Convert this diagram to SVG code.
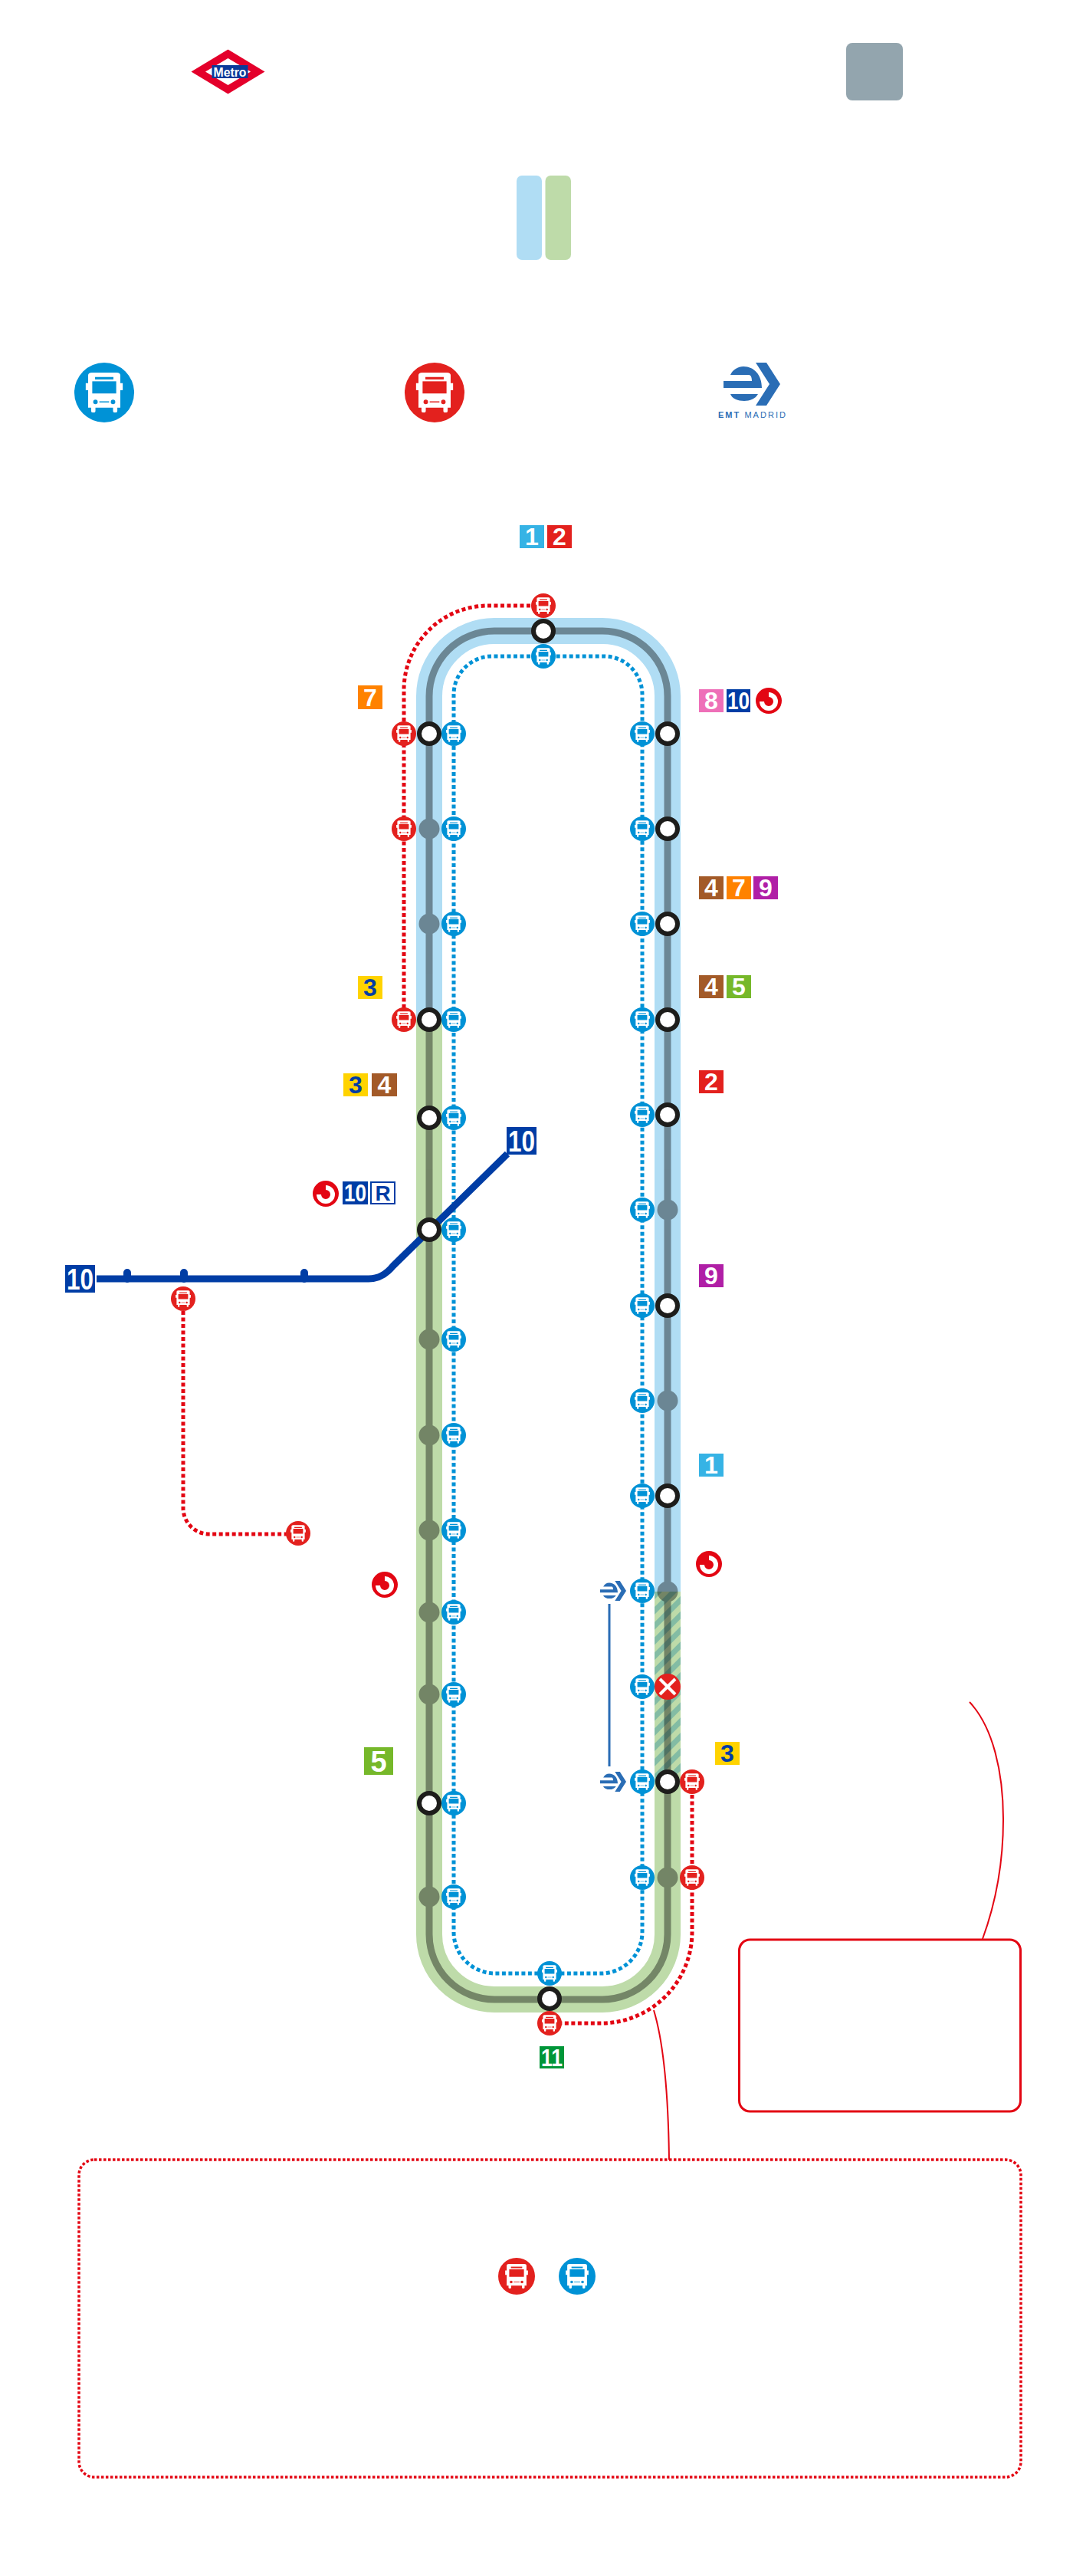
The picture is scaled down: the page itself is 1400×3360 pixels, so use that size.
<svg xmlns="http://www.w3.org/2000/svg" xmlns:xlink="http://www.w3.org/1999/xlink" width="1400" height="3360" viewBox="0 0 1400 3360">
<style>
text{font-family:"Liberation Sans",Arial,sans-serif;font-weight:700;text-anchor:middle}
.bt{font-size:32px;fill:#fff}
.bl{font-size:32px;fill:#003da5}
.bg{font-size:38px;fill:#fff}
.band{fill:none;stroke-width:34}
.dr{fill:none;stroke:#e30613;stroke-width:5;stroke-dasharray:5 3.5}
.db{fill:none;stroke:#0092d6;stroke-width:5;stroke-dasharray:5 3.5}
.lead{fill:none;stroke:#e30613;stroke-width:2}
.st{fill:#fff;stroke:#1d1d1b;stroke-width:6}
</style>
<defs>
<pattern id="hatch" width="14" height="14" patternUnits="userSpaceOnUse" patternTransform="rotate(45)"><rect width="14" height="14" fill="#bedba9"/><rect width="7" height="14" fill="#83bca4"/></pattern>
<g id="busBody"><path fill="#fff" d="M-8.6-9.2Q-8.6-10.7-6.6-10.7H6.6Q8.6-10.7 8.6-9.2V-5H9.9V-1.2H8.6V8.1H7V9.9Q7 10.7 6 10.7H5.6Q4.7 10.7 4.7 9.9V8.1H-4.7V9.9Q-4.7 10.7-5.6 10.7H-6Q-7 10.7-7 9.9V8.1H-8.6V-1.2H-9.9V-5H-8.6Z"/></g>
<g id="busB"><circle r="16" fill="#0092d6"/><use href="#busBody"/><g fill="#0092d6"><rect x="-6.4" y="-6" width="12.8" height="6.5"/><rect x="-4.9" y="-8.3" width="9.8" height="1.3"/><circle cx="-4.7" cy="5" r="1.2"/><circle cx="4.7" cy="5" r="1.2"/><rect x="-2.6" y="4.7" width="5.2" height=".6"/></g></g>
<g id="busR"><circle r="16" fill="#e3211e"/><use href="#busBody"/><g fill="#e3211e"><rect x="-6.4" y="-6" width="12.8" height="6.5"/><rect x="-4.9" y="-8.3" width="9.8" height="1.3"/><circle cx="-4.7" cy="5" r="1.2"/><circle cx="4.7" cy="5" r="1.2"/><rect x="-2.6" y="4.7" width="5.2" height=".6"/></g></g>
<g id="emt" fill="#2a6db5"><path d="M-28-12C-25-19-18-23-11-23C3-23 13-12 13 5H-37V-4H0C0-8-1-12-4-12Z"/><path d="M-28 13H8C5 19-3 22-10 22C-18 22-26 19-28 13Z"/><path d="M5-28H19L37 0L19 28H5L23 0Z"/></g>
<g id="circ"><circle r="17" fill="#e30613"/><path d="M0-8A9 9 0 1 1-9 1" fill="none" stroke="#fff" stroke-width="6"/></g>
</defs>
<rect width="1400" height="3360" fill="#fff"/>

<g id="metro-logo">
<path d="M297.500 64.500L345.500 93.500L297.500 122.500L249.500 93.500Z" fill="#e4002b"/>
<path d="M297.500 76L327 93.500L297.500 111L268 93.500Z" fill="#fff"/>
<rect x="276.500" y="85" width="47" height="17" fill="#0a3a9a"/>
<text x="300" y="99.500" font-size="17" fill="#fff" textLength="43" lengthAdjust="spacingAndGlyphs">Metro</text>
</g>
<g id="grey-box"><rect x="1104" y="56" width="74" height="75" rx="8" fill="#93a5ae"/></g>
<g id="legend-bars"><rect x="674" y="229" width="33" height="110" rx="7" fill="#b0ddf4"/><rect x="711.500" y="229" width="33.500" height="110" rx="7" fill="#bedba9"/></g>
<g id="big-bus-blue"><use href="#busB" transform="translate(136 512) scale(2.44)"/></g>
<g id="big-bus-red"><use href="#busR" transform="translate(567 512) scale(2.44)"/></g>
<g id="emt-logo"><use href="#emt" transform="translate(981 501)"/><text x="981" y="545" font-size="11" fill="#2a6db5" textLength="88">EMT <tspan font-weight="400">MADRID</tspan></text></g>

<g id="connectors">
<path class="band" stroke="#b0ddf4" d="M560 1330V908A85 85 0 0 1 645 823H786A85 85 0 0 1 871 908V2076"/>
<path class="band" stroke="#bedba9" d="M871 2076V2523A85 85 0 0 1 786 2608H645A85 85 0 0 1 560 2523V1330"/>
<rect x="854" y="2076" width="34" height="248" fill="url(#hatch)"/>
<g id="core" opacity=".39">
<path fill="none" stroke="#000" stroke-width="9" d="M560 908A85 85 0 0 1 645 823H786A85 85 0 0 1 871 908V2523A85 85 0 0 1 786 2608H645A85 85 0 0 1 560 2523Z"/>
<circle cx="560" cy="1081" r="13.500"/><circle cx="560" cy="1205" r="13.500"/><circle cx="560" cy="1747" r="13.500"/><circle cx="560" cy="1872" r="13.500"/><circle cx="560" cy="1996" r="13.500"/><circle cx="560" cy="2103" r="13.500"/><circle cx="560" cy="2210" r="13.500"/><circle cx="560" cy="2474" r="13.500"/>
<circle cx="871" cy="1578" r="13.500"/><circle cx="871" cy="1827" r="13.500"/><circle cx="871" cy="2076" r="13.500"/><circle cx="871" cy="2449" r="13.500"/>
</g>
<path class="db" d="M709 856H642A50 50 0 0 0 592 906V2520A54 54 0 0 0 646 2574H784A54 54 0 0 0 838 2520V906A50 50 0 0 0 788 856Z"/>
<path class="dr" d="M709 790H637A110 110 0 0 0 527 900V1330"/>
<path class="dr" d="M903 2324V2520A119 119 0 0 1 784 2639H717"/>
<path class="dr" d="M239 1693V1967A34 34 0 0 0 273 2001H389"/>
<path fill="none" stroke="#003da5" stroke-width="9" d="M126 1668H481C495 1668 505 1661 513 1651L662 1505"/>
<path fill="none" stroke="#003da5" stroke-width="10" stroke-linecap="round" d="M166 1660V1668M240 1660V1668M397 1660V1668"/>
<path fill="none" stroke="#2a6db5" stroke-width="3" d="M795 2092V2304"/>
<path class="lead" d="M1265 2220C1295 2252 1309 2310 1309 2373C1309 2430 1300 2480 1282 2529"/>
<path class="lead" d="M853 2622C866 2665 872 2730 873 2817"/>
</g>

<g id="stations">
<circle class="st" cx="709" cy="823" r="13"/><circle class="st" cx="717" cy="2607" r="13"/>
<circle class="st" cx="560" cy="957" r="13"/><circle class="st" cx="560" cy="1330" r="13"/><circle class="st" cx="560" cy="1458" r="13"/><circle class="st" cx="560" cy="1604" r="13"/><circle class="st" cx="560" cy="2352" r="13"/>
<circle class="st" cx="871" cy="957" r="13"/><circle class="st" cx="871" cy="1081" r="13"/><circle class="st" cx="871" cy="1205" r="13"/><circle class="st" cx="871" cy="1330" r="13"/><circle class="st" cx="871" cy="1454" r="13"/><circle class="st" cx="871" cy="1703" r="13"/><circle class="st" cx="871" cy="1951" r="13"/><circle class="st" cx="871" cy="2324" r="13"/>
</g>
<g id="closed-station"><circle cx="871" cy="2200" r="17" fill="#e3211e"/><path d="M861 2190L881 2210M881 2190L861 2210" stroke="#fff" stroke-width="4" fill="none"/></g>

<g id="blue-stops">
<use href="#busB" x="709" y="856"/><use href="#busB" x="717" y="2574"/>
<use href="#busB" x="592" y="957"/><use href="#busB" x="592" y="1081"/><use href="#busB" x="592" y="1205"/><use href="#busB" x="592" y="1330"/><use href="#busB" x="592" y="1458"/><use href="#busB" x="592" y="1604"/><use href="#busB" x="592" y="1747"/><use href="#busB" x="592" y="1872"/><use href="#busB" x="592" y="1996"/><use href="#busB" x="592" y="2103"/><use href="#busB" x="592" y="2210"/><use href="#busB" x="592" y="2352"/><use href="#busB" x="592" y="2474"/>
<use href="#busB" x="838" y="957"/><use href="#busB" x="838" y="1081"/><use href="#busB" x="838" y="1205"/><use href="#busB" x="838" y="1330"/><use href="#busB" x="838" y="1454"/><use href="#busB" x="838" y="1578"/><use href="#busB" x="838" y="1703"/><use href="#busB" x="838" y="1827"/><use href="#busB" x="838" y="1951"/><use href="#busB" x="838" y="2075"/><use href="#busB" x="838" y="2200"/><use href="#busB" x="838" y="2324"/><use href="#busB" x="838" y="2449"/>
</g>
<g id="red-stops">
<use href="#busR" x="709" y="790"/><use href="#busR" x="527" y="957"/><use href="#busR" x="527" y="1081"/><use href="#busR" x="527" y="1330"/>
<use href="#busR" x="903" y="2324"/><use href="#busR" x="903" y="2449"/><use href="#busR" x="717" y="2639"/><use href="#busR" x="239" y="1694"/><use href="#busR" x="389" y="2000"/>
</g>
<g id="emt-stops"><use href="#emt" transform="translate(800 2075) scale(.46)"/><use href="#emt" transform="translate(800 2324) scale(.46)"/></g>

<g id="badges-top"><rect x="678" y="685" width="32" height="30" fill="#36b3e5"/><text class="bt" x="694" y="711">1</text><rect x="714" y="685" width="32" height="30" fill="#e3211e"/><text class="bt" x="730" y="711">2</text></g>
<g id="badge-7-left"><rect x="467" y="894" width="32" height="31" fill="#ff8200"/><text class="bt" x="483" y="920.500">7</text></g>
<g id="badges-8-10"><rect x="912" y="899" width="32" height="30" fill="#ee6fb8"/><text class="bt" x="928" y="925">8</text><rect x="948" y="899" width="31" height="30" fill="#003da5"/><text class="bt" x="963.500" y="925" textLength="29" lengthAdjust="spacingAndGlyphs">10</text><use href="#circ" x="1003" y="914"/></g>
<g id="badges-4-7-9"><rect x="912" y="1143" width="32" height="30" fill="#a35a28"/><text class="bt" x="928" y="1169">4</text><rect x="948" y="1143" width="32" height="30" fill="#ff8200"/><text class="bt" x="964" y="1169">7</text><rect x="983" y="1143" width="32" height="30" fill="#b01fa6"/><text class="bt" x="999" y="1169">9</text></g>
<g id="badges-4-5"><rect x="912" y="1272" width="32" height="30" fill="#a35a28"/><text class="bt" x="928" y="1298">4</text><rect x="948" y="1272" width="32" height="30" fill="#76b82a"/><text class="bt" x="964" y="1298">5</text></g>
<g id="badge-2-right"><rect x="912" y="1396" width="32" height="30" fill="#e3211e"/><text class="bt" x="928" y="1422">2</text></g>
<g id="badge-9-right"><rect x="912" y="1649" width="32" height="30" fill="#b01fa6"/><text class="bt" x="928" y="1675">9</text></g>
<g id="badge-1-right"><rect x="912" y="1896" width="32" height="30" fill="#36b3e5"/><text class="bt" x="928" y="1922">1</text></g>
<g id="circ-right"><use href="#circ" x="925" y="2040"/></g>
<g id="badge-3-right"><rect x="933" y="2272" width="32" height="30" fill="#ffd300"/><text class="bl" x="949" y="2298">3</text></g>
<g id="badge-3-left"><rect x="467" y="1273" width="32" height="30" fill="#ffd300"/><text class="bl" x="483" y="1299">3</text></g>
<g id="badges-3-4"><rect x="448" y="1400" width="32" height="30" fill="#ffd300"/><text class="bl" x="464" y="1426">3</text><rect x="485" y="1400" width="33" height="30" fill="#a35a28"/><text class="bt" x="501.500" y="1426">4</text></g>
<g id="badges-circ-10-r"><use href="#circ" x="425" y="1557"/><rect x="447" y="1541" width="33" height="30" fill="#003da5"/><text class="bt" x="463.500" y="1567" textLength="29" lengthAdjust="spacingAndGlyphs">10</text><rect x="484" y="1542" width="31" height="28" fill="#fff" stroke="#003da5" stroke-width="2"/><text class="bl" x="499.500" y="1566" style="font-size:28px">R</text></g>
<g id="badge-10-left"><rect x="85" y="1650" width="39" height="36" fill="#003da5"/><text class="bg" x="104.500" y="1681.500" textLength="35" lengthAdjust="spacingAndGlyphs">10</text></g>
<g id="badge-10-right"><rect x="661" y="1470" width="39" height="36" fill="#003da5"/><text class="bg" x="680.500" y="1501.500" textLength="35" lengthAdjust="spacingAndGlyphs">10</text></g>
<g id="circ-left"><use href="#circ" x="502" y="2067"/></g>
<g id="badge-5"><rect x="475" y="2279" width="38" height="36" fill="#76b82a"/><text class="bg" x="494" y="2310.500">5</text></g>
<g id="badge-11"><rect x="704" y="2669" width="32" height="29" fill="#009639"/><text class="bt" x="720" y="2694.500" textLength="28" lengthAdjust="spacingAndGlyphs">11</text></g>

<g id="callout-solid"><rect x="964.500" y="2530" width="367" height="224" rx="14" fill="none" stroke="#e30613" stroke-width="3"/></g>
<g id="callout-dotted"><rect x="103" y="2817" width="1229" height="414" rx="20" fill="none" stroke="#e30613" stroke-width="3.500" stroke-dasharray="3.500 2.500"/>
<use href="#busR" transform="translate(674 2969) scale(1.500)"/><use href="#busB" transform="translate(753 2969) scale(1.500)"/></g>
</svg>
